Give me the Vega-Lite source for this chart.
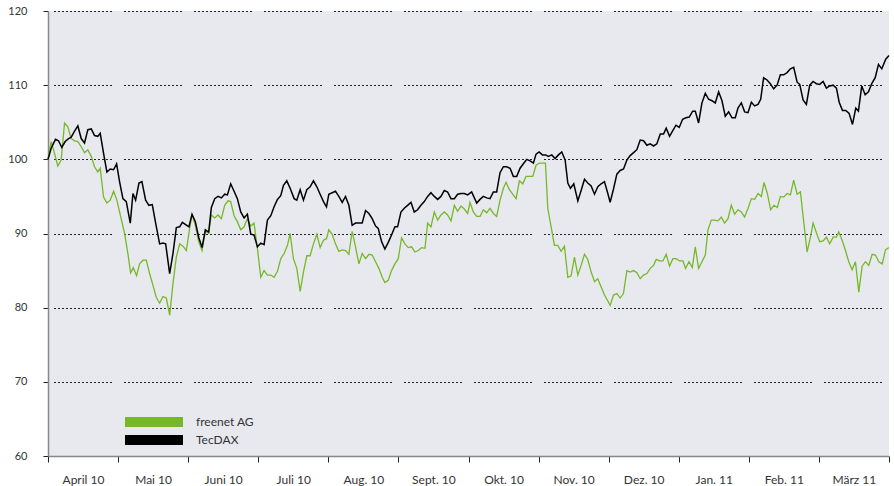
{
"$schema": "https://vega.github.io/schema/vega-lite/v6.json",
"width": 841, "height": 445,
"autosize": {"type": "none"},
"padding": {"left": 48, "top": 11, "right": 5, "bottom": 30},
"background": "white",
"config": {"view": {"fill": "#e8e9ee", "stroke": null}, "font": "Lato"},
"datasets": {
"freenet": [
{"t":0,"v":100},{"t":0.045,"v":102.4},{"t":0.093,"v":100.8},{"t":0.14,"v":99.1},{"t":0.188,"v":99.9},{"t":0.236,"v":104.9},{"t":0.283,"v":104.4},{"t":0.331,"v":102.8},{"t":0.379,"v":102.5},{"t":0.426,"v":102.4},{"t":0.474,"v":101.7},{"t":0.521,"v":100.9},{"t":0.569,"v":101.3},{"t":0.617,"v":100.4},{"t":0.664,"v":99.0},{"t":0.711,"v":98.3},{"t":0.745,"v":98.8},{"t":0.793,"v":94.9},{"t":0.84,"v":94.1},{"t":0.888,"v":94.5},{"t":0.936,"v":95.7},{"t":0.983,"v":94.5},{"t":1.036,"v":92.3},{"t":1.093,"v":90.0},{"t":1.14,"v":87.3},{"t":1.179,"v":84.7},{"t":1.217,"v":85.4},{"t":1.264,"v":84.3},{"t":1.307,"v":85.9},{"t":1.355,"v":86.4},{"t":1.402,"v":86.4},{"t":1.45,"v":84.6},{"t":1.498,"v":83.0},{"t":1.545,"v":81.4},{"t":1.593,"v":80.6},{"t":1.64,"v":81.5},{"t":1.688,"v":81.3},{"t":1.736,"v":79.0},{"t":1.783,"v":83.2},{"t":1.831,"v":86.8},{"t":1.879,"v":88.6},{"t":1.926,"v":88.3},{"t":1.974,"v":87.7},{"t":2.021,"v":90.7},{"t":2.055,"v":92.6},{"t":2.102,"v":91.1},{"t":2.15,"v":88.9},{"t":2.198,"v":87.7},{"t":2.245,"v":90.3},{"t":2.293,"v":90.0},{"t":2.331,"v":92.5},{"t":2.379,"v":92.1},{"t":2.426,"v":92.5},{"t":2.474,"v":92.0},{"t":2.521,"v":93.8},{"t":2.569,"v":94.4},{"t":2.607,"v":94.3},{"t":2.655,"v":92.4},{"t":2.702,"v":91.6},{"t":2.75,"v":90.5},{"t":2.798,"v":90.9},{"t":2.845,"v":92.0},{"t":2.893,"v":91.0},{"t":2.94,"v":91.4},{"t":2.988,"v":88.0},{"t":3.036,"v":84.1},{"t":3.083,"v":85.0},{"t":3.131,"v":84.4},{"t":3.179,"v":84.4},{"t":3.226,"v":84.1},{"t":3.274,"v":84.9},{"t":3.321,"v":86.6},{"t":3.369,"v":87.3},{"t":3.417,"v":88.4},{"t":3.455,"v":90.0},{"t":3.502,"v":86.6},{"t":3.55,"v":85.3},{"t":3.598,"v":82.2},{"t":3.645,"v":84.8},{"t":3.693,"v":87.0},{"t":3.74,"v":87.0},{"t":3.788,"v":88.6},{"t":3.836,"v":89.9},{"t":3.883,"v":88.1},{"t":3.931,"v":89.1},{"t":3.974,"v":89.3},{"t":4.007,"v":90.5},{"t":4.055,"v":89.9},{"t":4.102,"v":88.6},{"t":4.15,"v":87.6},{"t":4.198,"v":87.8},{"t":4.245,"v":87.7},{"t":4.293,"v":87.2},{"t":4.34,"v":90.3},{"t":4.388,"v":88.2},{"t":4.436,"v":85.9},{"t":4.483,"v":87.3},{"t":4.531,"v":86.6},{"t":4.579,"v":87.2},{"t":4.626,"v":87.1},{"t":4.674,"v":86.2},{"t":4.721,"v":85.3},{"t":4.769,"v":84.1},{"t":4.807,"v":83.4},{"t":4.855,"v":83.7},{"t":4.902,"v":85.0},{"t":4.95,"v":85.9},{"t":4.998,"v":86.6},{"t":5.045,"v":89.4},{"t":5.093,"v":88.6},{"t":5.14,"v":88.1},{"t":5.188,"v":88.2},{"t":5.236,"v":87.5},{"t":5.283,"v":87.7},{"t":5.331,"v":88.1},{"t":5.379,"v":88.0},{"t":5.417,"v":91.4},{"t":5.464,"v":90.9},{"t":5.512,"v":92.9},{"t":5.56,"v":91.8},{"t":5.607,"v":92.5},{"t":5.655,"v":92.9},{"t":5.702,"v":92.5},{"t":5.75,"v":91.7},{"t":5.798,"v":93.8},{"t":5.845,"v":93.0},{"t":5.893,"v":93.7},{"t":5.94,"v":93.3},{"t":5.988,"v":92.7},{"t":6.021,"v":94.2},{"t":6.069,"v":92.9},{"t":6.117,"v":92.3},{"t":6.164,"v":92.3},{"t":6.212,"v":93.2},{"t":6.26,"v":92.8},{"t":6.307,"v":93.4},{"t":6.355,"v":92.7},{"t":6.402,"v":92.3},{"t":6.45,"v":94.5},{"t":6.498,"v":96.1},{"t":6.536,"v":96.9},{"t":6.583,"v":95.9},{"t":6.631,"v":95.3},{"t":6.679,"v":94.7},{"t":6.726,"v":97.1},{"t":6.774,"v":96.7},{"t":6.821,"v":97.7},{"t":6.869,"v":97.7},{"t":6.917,"v":97.7},{"t":6.964,"v":99.2},{"t":7.012,"v":99.5},{"t":7.06,"v":99.5},{"t":7.098,"v":99.5},{"t":7.131,"v":93.4},{"t":7.179,"v":90.9},{"t":7.226,"v":88.4},{"t":7.274,"v":88.4},{"t":7.321,"v":87.6},{"t":7.369,"v":88.3},{"t":7.417,"v":84.1},{"t":7.464,"v":84.3},{"t":7.512,"v":86.8},{"t":7.56,"v":84.4},{"t":7.607,"v":85.7},{"t":7.655,"v":87.2},{"t":7.702,"v":86.5},{"t":7.75,"v":84.8},{"t":7.798,"v":83.5},{"t":7.845,"v":83.9},{"t":7.893,"v":82.8},{"t":7.94,"v":81.7},{"t":7.988,"v":80.9},{"t":8.021,"v":80.3},{"t":8.069,"v":81.7},{"t":8.117,"v":81.9},{"t":8.164,"v":81.3},{"t":8.211,"v":81.9},{"t":8.26,"v":85.0},{"t":8.307,"v":84.8},{"t":8.354,"v":85.0},{"t":8.403,"v":84.7},{"t":8.45,"v":83.9},{"t":8.497,"v":84.4},{"t":8.546,"v":84.6},{"t":8.593,"v":85.3},{"t":8.64,"v":85.7},{"t":8.679,"v":86.5},{"t":8.726,"v":86.3},{"t":8.774,"v":86.3},{"t":8.821,"v":87.2},{"t":8.869,"v":85.6},{"t":8.917,"v":86.6},{"t":8.964,"v":86.6},{"t":9.011,"v":86.3},{"t":9.06,"v":86.3},{"t":9.097,"v":85.3},{"t":9.146,"v":86.2},{"t":9.193,"v":85.4},{"t":9.236,"v":88.2},{"t":9.283,"v":85.3},{"t":9.331,"v":86.2},{"t":9.379,"v":87.1},{"t":9.417,"v":90.5},{"t":9.464,"v":91.8},{"t":9.511,"v":91.8},{"t":9.56,"v":91.7},{"t":9.607,"v":92.2},{"t":9.654,"v":91.4},{"t":9.703,"v":92.0},{"t":9.75,"v":93.8},{"t":9.797,"v":92.6},{"t":9.846,"v":93.2},{"t":9.893,"v":92.9},{"t":9.94,"v":92.2},{"t":9.989,"v":93.4},{"t":10.036,"v":94.7},{"t":10.083,"v":94.6},{"t":10.131,"v":95.4},{"t":10.179,"v":95.0},{"t":10.217,"v":96.9},{"t":10.264,"v":95.4},{"t":10.311,"v":93.2},{"t":10.36,"v":93.8},{"t":10.407,"v":93.5},{"t":10.45,"v":95.0},{"t":10.497,"v":94.9},{"t":10.546,"v":95.4},{"t":10.593,"v":95.2},{"t":10.64,"v":97.2},{"t":10.689,"v":95.3},{"t":10.736,"v":95.6},{"t":10.783,"v":91.6},{"t":10.831,"v":87.5},{"t":10.879,"v":89.5},{"t":10.917,"v":91.4},{"t":10.964,"v":90.1},{"t":11.011,"v":88.9},{"t":11.06,"v":89.0},{"t":11.107,"v":89.5},{"t":11.154,"v":88.6},{"t":11.203,"v":89.5},{"t":11.25,"v":89.5},{"t":11.283,"v":90.2},{"t":11.331,"v":89.1},{"t":11.379,"v":87.7},{"t":11.426,"v":86.2},{"t":11.474,"v":85.1},{"t":11.521,"v":86.2},{"t":11.569,"v":82.1},{"t":11.617,"v":85.6},{"t":11.664,"v":86.2},{"t":11.711,"v":85.7},{"t":11.76,"v":87.2},{"t":11.807,"v":87.1},{"t":11.854,"v":86.2},{"t":11.903,"v":85.9},{"t":11.95,"v":87.8},{"t":11.997,"v":88.1}
],
"tecdax": [
{"t":0,"v":100},{"t":0.045,"v":101.5},{"t":0.107,"v":102.7},{"t":0.15,"v":102.5},{"t":0.197,"v":101.6},{"t":0.245,"v":102.4},{"t":0.293,"v":102.8},{"t":0.331,"v":103.0},{"t":0.379,"v":103.8},{"t":0.426,"v":104.5},{"t":0.474,"v":102.8},{"t":0.521,"v":102.2},{"t":0.569,"v":104.0},{"t":0.617,"v":104.1},{"t":0.664,"v":103.2},{"t":0.711,"v":103.1},{"t":0.745,"v":103.5},{"t":0.793,"v":100.8},{"t":0.84,"v":98.3},{"t":0.888,"v":98.7},{"t":0.936,"v":98.6},{"t":0.979,"v":99.4},{"t":1.021,"v":97.0},{"t":1.069,"v":94.7},{"t":1.117,"v":94.3},{"t":1.174,"v":91.4},{"t":1.212,"v":95.4},{"t":1.25,"v":94.5},{"t":1.298,"v":96.8},{"t":1.34,"v":97.0},{"t":1.393,"v":94.5},{"t":1.44,"v":93.8},{"t":1.488,"v":93.9},{"t":1.536,"v":91.4},{"t":1.593,"v":88.6},{"t":1.64,"v":88.7},{"t":1.679,"v":88.6},{"t":1.736,"v":84.6},{"t":1.783,"v":87.3},{"t":1.831,"v":90.8},{"t":1.879,"v":90.9},{"t":1.917,"v":91.5},{"t":1.964,"v":91.2},{"t":2.011,"v":90.9},{"t":2.055,"v":92.6},{"t":2.102,"v":91.6},{"t":2.15,"v":89.5},{"t":2.198,"v":88.1},{"t":2.245,"v":90.5},{"t":2.293,"v":90.2},{"t":2.331,"v":93.5},{"t":2.379,"v":94.7},{"t":2.426,"v":95.0},{"t":2.474,"v":94.8},{"t":2.521,"v":95.3},{"t":2.56,"v":95.2},{"t":2.607,"v":96.7},{"t":2.655,"v":95.7},{"t":2.702,"v":94.7},{"t":2.75,"v":92.9},{"t":2.798,"v":92.1},{"t":2.845,"v":92.6},{"t":2.893,"v":89.9},{"t":2.94,"v":89.8},{"t":2.988,"v":88.2},{"t":3.036,"v":88.7},{"t":3.083,"v":88.5},{"t":3.131,"v":91.8},{"t":3.179,"v":92.4},{"t":3.226,"v":93.6},{"t":3.274,"v":94.6},{"t":3.321,"v":95.1},{"t":3.36,"v":96.5},{"t":3.407,"v":97.1},{"t":3.455,"v":96.1},{"t":3.512,"v":94.7},{"t":3.55,"v":94.5},{"t":3.598,"v":95.9},{"t":3.645,"v":94.5},{"t":3.693,"v":95.9},{"t":3.74,"v":96.3},{"t":3.788,"v":97.1},{"t":3.836,"v":96.3},{"t":3.883,"v":95.3},{"t":3.931,"v":94.3},{"t":3.974,"v":93.6},{"t":4.007,"v":95.3},{"t":4.055,"v":95.5},{"t":4.102,"v":95.7},{"t":4.15,"v":95.0},{"t":4.198,"v":94.2},{"t":4.245,"v":95.0},{"t":4.293,"v":93.8},{"t":4.34,"v":91.1},{"t":4.388,"v":91.4},{"t":4.436,"v":91.4},{"t":4.483,"v":91.4},{"t":4.531,"v":93.1},{"t":4.579,"v":92.7},{"t":4.626,"v":92.0},{"t":4.674,"v":91.0},{"t":4.712,"v":90.7},{"t":4.76,"v":88.9},{"t":4.807,"v":87.9},{"t":4.855,"v":88.8},{"t":4.902,"v":89.8},{"t":4.95,"v":90.9},{"t":4.988,"v":90.9},{"t":5.036,"v":92.9},{"t":5.083,"v":93.4},{"t":5.131,"v":93.8},{"t":5.179,"v":94.2},{"t":5.226,"v":92.9},{"t":5.274,"v":93.2},{"t":5.321,"v":93.8},{"t":5.369,"v":94.3},{"t":5.417,"v":95.0},{"t":5.464,"v":95.5},{"t":5.512,"v":95.0},{"t":5.56,"v":94.6},{"t":5.607,"v":95.0},{"t":5.655,"v":95.8},{"t":5.702,"v":95.6},{"t":5.75,"v":94.7},{"t":5.798,"v":94.7},{"t":5.845,"v":95.3},{"t":5.893,"v":95.4},{"t":5.94,"v":95.4},{"t":5.988,"v":95.2},{"t":6.045,"v":95.6},{"t":6.117,"v":94.1},{"t":6.164,"v":94.6},{"t":6.212,"v":95.0},{"t":6.26,"v":94.8},{"t":6.307,"v":94.7},{"t":6.355,"v":95.6},{"t":6.402,"v":95.6},{"t":6.45,"v":98.2},{"t":6.498,"v":99.0},{"t":6.545,"v":99.0},{"t":6.593,"v":98.8},{"t":6.64,"v":97.7},{"t":6.688,"v":97.7},{"t":6.736,"v":98.8},{"t":6.783,"v":99.4},{"t":6.831,"v":100.0},{"t":6.879,"v":99.8},{"t":6.926,"v":99.5},{"t":6.964,"v":100.7},{"t":7.007,"v":101.0},{"t":7.055,"v":100.6},{"t":7.102,"v":100.6},{"t":7.14,"v":100.4},{"t":7.188,"v":100.6},{"t":7.236,"v":100.1},{"t":7.283,"v":100.6},{"t":7.331,"v":101.0},{"t":7.379,"v":99.9},{"t":7.417,"v":96.8},{"t":7.455,"v":96.1},{"t":7.502,"v":96.7},{"t":7.56,"v":94.4},{"t":7.607,"v":95.8},{"t":7.655,"v":97.3},{"t":7.702,"v":96.8},{"t":7.75,"v":96.4},{"t":7.798,"v":95.3},{"t":7.845,"v":96.3},{"t":7.893,"v":96.7},{"t":7.94,"v":97.0},{"t":7.988,"v":95.4},{"t":8.021,"v":94.2},{"t":8.069,"v":96.0},{"t":8.117,"v":98.0},{"t":8.164,"v":98.5},{"t":8.212,"v":98.7},{"t":8.26,"v":99.9},{"t":8.307,"v":100.5},{"t":8.355,"v":100.9},{"t":8.402,"v":101.3},{"t":8.45,"v":102.6},{"t":8.498,"v":102.5},{"t":8.545,"v":101.9},{"t":8.593,"v":102.1},{"t":8.64,"v":101.8},{"t":8.688,"v":102.1},{"t":8.736,"v":103.4},{"t":8.783,"v":103.4},{"t":8.821,"v":104.2},{"t":8.869,"v":103.1},{"t":8.917,"v":103.9},{"t":8.96,"v":104.6},{"t":9.007,"v":104.3},{"t":9.055,"v":105.4},{"t":9.102,"v":105.6},{"t":9.15,"v":105.7},{"t":9.198,"v":106.5},{"t":9.236,"v":106.5},{"t":9.283,"v":104.9},{"t":9.331,"v":107.6},{"t":9.379,"v":108.9},{"t":9.426,"v":108.1},{"t":9.474,"v":107.9},{"t":9.521,"v":107.6},{"t":9.569,"v":109.1},{"t":9.617,"v":107.9},{"t":9.664,"v":105.8},{"t":9.712,"v":106.4},{"t":9.76,"v":105.6},{"t":9.807,"v":105.6},{"t":9.845,"v":106.9},{"t":9.893,"v":107.6},{"t":9.94,"v":106.4},{"t":9.988,"v":106.3},{"t":10.036,"v":107.7},{"t":10.083,"v":107.2},{"t":10.131,"v":107.4},{"t":10.169,"v":108.1},{"t":10.211,"v":111.0},{"t":10.26,"v":110.7},{"t":10.307,"v":110.2},{"t":10.354,"v":109.5},{"t":10.403,"v":110.0},{"t":10.45,"v":111.4},{"t":10.497,"v":111.4},{"t":10.546,"v":111.7},{"t":10.593,"v":112.2},{"t":10.64,"v":112.4},{"t":10.689,"v":110.4},{"t":10.726,"v":110.1},{"t":10.774,"v":108.0},{"t":10.821,"v":107.4},{"t":10.869,"v":110.0},{"t":10.917,"v":110.5},{"t":10.964,"v":110.2},{"t":11.011,"v":110.1},{"t":11.06,"v":110.5},{"t":11.107,"v":109.6},{"t":11.154,"v":109.9},{"t":11.203,"v":110.0},{"t":11.25,"v":109.6},{"t":11.289,"v":107.7},{"t":11.336,"v":106.6},{"t":11.383,"v":106.6},{"t":11.431,"v":106.2},{"t":11.479,"v":104.7},{"t":11.526,"v":106.9},{"t":11.564,"v":106.5},{"t":11.611,"v":109.9},{"t":11.66,"v":108.7},{"t":11.707,"v":109.1},{"t":11.754,"v":110.2},{"t":11.803,"v":111.0},{"t":11.85,"v":112.8},{"t":11.897,"v":112.2},{"t":11.953,"v":113.5},{"t":12.0,"v":114.0}
]
},
"encoding": {
  "x": {"field": "t", "type": "quantitative", "scale": {"domain": [0, 12], "nice": false, "zero": false},
    "axis": {"title": null, "grid": false, "values": [0,1,2,3,4,5,6,7,8,9,10,11,12],
      "labelExpr": "['April 10','Mai 10','Juni 10','Juli 10','Aug. 10','Sept. 10','Okt. 10','Nov. 10','Dez. 10','Jan. 11','Feb. 11','März 11',''][datum.value]",
      "labelOffset": 35, "labelFlush": false, "labelOverlap": false, "labelBound": false,
      "tickSize": 6, "tickColor": "#222", "tickWidth": 1, "domainColor": "#888", "domainWidth": 1.5,
      "labelPadding": 12, "labelFontSize": 12, "labelColor": "#333", "labelFont": "Lato"}},
  "y": {"field": "v", "type": "quantitative", "scale": {"domain": [60, 120], "nice": false, "zero": false},
    "axis": {"title": null, "values": [60,70,80,90,100,110,120], "grid": true, "gridColor": "#222", "gridWidth": 1,
      "gridDash": [2,2,2,2,2,2,2,2,2,2,2,2,2,2,2,2,2,2,2,2,2,2,2,2,2,2,2,2,2,12], "gridDashOffset": 64.5,
      "tickSize": 5, "tickColor": "#222", "domainColor": "#888", "domainWidth": 1.5,
      "labelPadding": 16, "labelFontSize": 11, "labelColor": "#333", "labelFont": "Lato"}}
},
"layer": [
  {"data": {"name": "freenet"}, "mark": {"type": "line", "strokeWidth": 1.3, "interpolate": "linear"},
   "encoding": {"color": {"datum": "freenet AG", "type": "nominal",
     "scale": {"domain": ["freenet AG", "TecDAX"], "range": ["#76b82a", "#000000"]},
     "legend": {"title": null, "orient": "none", "legendX": 76, "legendY": 405, "padding": 0,
       "symbolType": "M-1,-1H10.6V1H-1Z", "symbolSize": 100, "symbolStrokeWidth": 0,
       "labelOffset": 60, "labelFontSize": 12, "labelColor": "#333", "labelFont": "Lato", "rowPadding": 6,
       "encode": {"symbols": {"update": {"fill": {"scale": "color", "field": "value"}, "fillOpacity": {"value": 1}, "opacity": {"value": 1}}}}}}}},
  {"data": {"name": "tecdax"}, "mark": {"type": "line", "strokeWidth": 1.5, "interpolate": "linear"},
   "encoding": {"color": {"datum": "TecDAX", "type": "nominal"}}}
]
}
